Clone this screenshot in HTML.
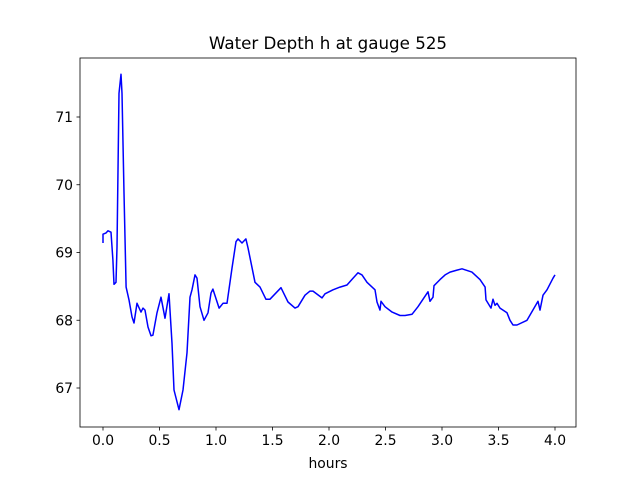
<!DOCTYPE html>
<html><head><meta charset="utf-8"><style>
body{margin:0;background:#fff;}
svg{display:block;font-family:"DejaVu Sans","Liberation Sans",sans-serif;}
</style></head><body>
<svg id="chart" width="640" height="480" viewBox="0 0 640 480" xmlns="http://www.w3.org/2000/svg">
<rect width="640" height="480" fill="#fff"/>
<text x="328" y="49" text-anchor="middle" font-size="16.7">Water Depth h at gauge 525</text>
<g id="plot"></g>
<text x="328" y="468" text-anchor="middle" font-size="13.9">hours</text>
</svg>
<script>
const hours=[0.0,0.0,0.027,0.044,0.071,0.088,0.097,0.115,0.124,0.142,0.159,0.168,0.186,0.204,0.230,0.257,0.274,0.301,0.336,0.354,0.372,0.398,0.425,0.442,0.478,0.513,0.549,0.584,0.611,0.628,0.673,0.708,0.743,0.770,0.788,0.814,0.832,0.858,0.894,0.929,0.956,0.973,1.027,1.062,1.097,1.142,1.177,1.195,1.230,1.265,1.283,1.345,1.389,1.442,1.478,1.575,1.593,1.637,1.699,1.726,1.788,1.832,1.858,1.938,1.965,2.035,2.097,2.159,2.212,2.257,2.292,2.336,2.407,2.425,2.451,2.460,2.496,2.558,2.628,2.673,2.735,2.788,2.876,2.894,2.920,2.929,2.982,3.027,3.071,3.133,3.177,3.265,3.336,3.381,3.389,3.434,3.451,3.469,3.487,3.513,3.575,3.602,3.628,3.664,3.752,3.850,3.867,3.894,3.929,3.982,4.0];
const depth=[69.14,69.27,69.29,69.32,69.30,68.89,68.53,68.56,69.08,71.35,71.63,71.35,69.88,68.49,68.30,68.05,67.96,68.25,68.12,68.18,68.15,67.90,67.77,67.78,68.11,68.34,68.03,68.39,67.66,66.97,66.68,66.97,67.52,68.34,68.45,68.67,68.62,68.20,68.00,68.11,68.40,68.46,68.18,68.25,68.25,68.77,69.16,69.20,69.14,69.20,69.07,68.56,68.49,68.31,68.31,68.48,68.42,68.27,68.18,68.20,68.37,68.43,68.43,68.33,68.39,68.45,68.49,68.52,68.62,68.70,68.67,68.56,68.45,68.27,68.15,68.28,68.20,68.12,68.07,68.07,68.09,68.20,68.42,68.28,68.34,68.51,68.60,68.67,68.71,68.74,68.76,68.71,68.60,68.49,68.30,68.18,68.31,68.22,68.25,68.18,68.11,68.00,67.93,67.93,68.00,68.28,68.15,68.37,68.45,68.62,68.67];
const xTicks=[0.0,0.5,1.0,1.5,2.0,2.5,3.0,3.5,4.0];
const xTickLabels=["0.0","0.5","1.0","1.5","2.0","2.5","3.0","3.5","4.0"];
const yTicks=[67,68,69,70,71];
const yTickLabels=["67","68","69","70","71"];
const L=80,R=576,T=58,B=427;
function xs(v){return 103+v*113;}
function ys(v){return 117+(71-v)*67.75;}
const NS="http://www.w3.org/2000/svg";
const g=document.getElementById('plot');
function mk(tag,attrs){const e=document.createElementNS(NS,tag);for(const k in attrs)e.setAttribute(k,attrs[k]);g.appendChild(e);return e;}
let d="";
for(let i=0;i<hours.length;i++){d+=(i?"L":"M")+xs(hours[i]).toFixed(1)+","+ys(depth[i]).toFixed(1);}
const line=mk('path',{d:d,fill:'none',stroke:'#0000ff','stroke-width':1.5,'stroke-linejoin':'round'});


const frame=mk('rect',{x:L,y:T,width:R-L,height:B-T,fill:'none',stroke:'#000','stroke-width':0.8});


xTicks.forEach((v,i)=>{
  const t=mk('line',{x1:xs(v),x2:xs(v),y1:B,y2:B+3.5,stroke:'#000','stroke-width':0.8});
  
  
  const l=mk('text',{x:xs(v),y:B+18,'text-anchor':'middle','font-size':13.9});
  l.textContent=xTickLabels[i];
  
  
});
yTicks.forEach((v,i)=>{
  const t=mk('line',{x1:L-3.5,x2:L,y1:ys(v),y2:ys(v),stroke:'#000','stroke-width':0.8});
  
  
  const l=mk('text',{x:L-7,y:ys(v)+5,'text-anchor':'end','font-size':13.9});
  l.textContent=yTickLabels[i];
  
  
});
</script>
</body></html>
